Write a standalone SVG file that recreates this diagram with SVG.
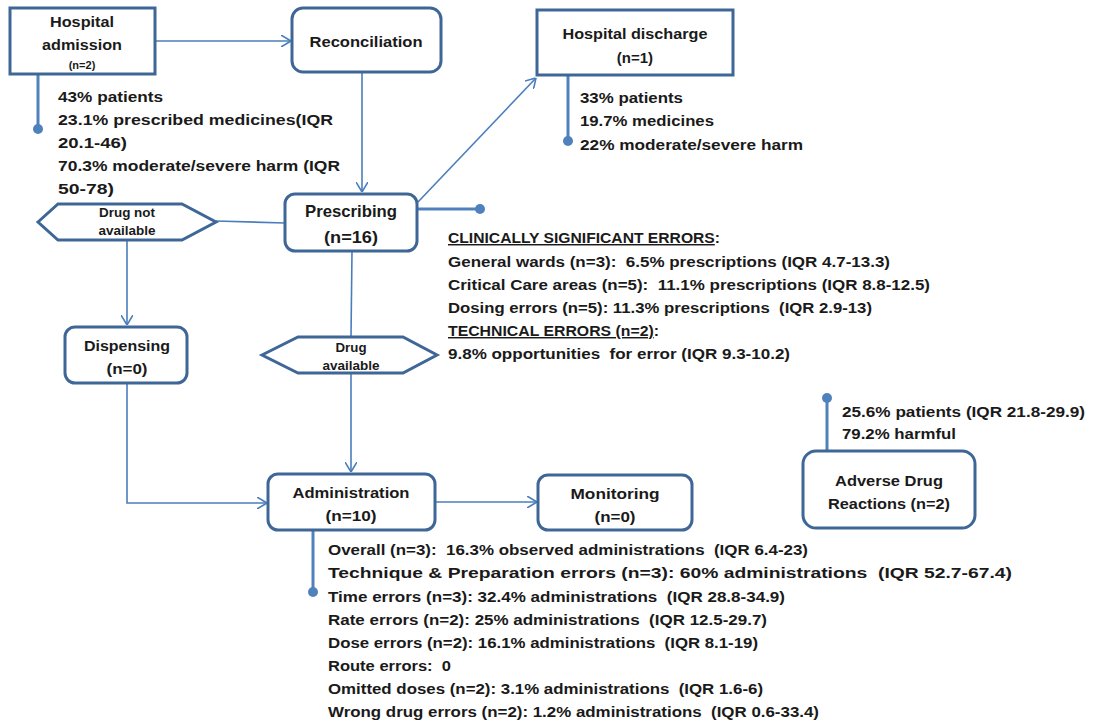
<svg xmlns="http://www.w3.org/2000/svg" width="1095" height="724" viewBox="0 0 1095 724">
  <style>
    .box { fill: #ffffff; stroke: #3e6696; stroke-width: 3; }
    .conn { fill: none; stroke: #4a7ebb; stroke-width: 1.6; }
    .call { fill: none; stroke: #4f81bd; stroke-width: 3; }
    .dot { fill: #4f81bd; }
    text { font-family: "Liberation Sans", Arial, sans-serif; font-weight: bold; fill: #1a1a1a; white-space: pre; }
    .n { font-size: 15px; text-anchor: middle; }
    .nb { font-size: 16.5px; text-anchor: middle; }
    .hx { font-size: 12.5px; text-anchor: middle; }
    .c { font-size: 14.5px; }
    .u { text-decoration: underline; }
  </style>
  <defs>
    <marker id="arrow" viewBox="0 0 10 12" refX="10" refY="6" markerWidth="10" markerHeight="12" markerUnits="userSpaceOnUse" orient="auto">
      <path d="M0,0 L10,6 L0,12" fill="none" stroke="#4a7ebb" stroke-width="1.6"/>
    </marker>
  </defs>

  <!-- connectors -->
  <g id="connectors">
    <line class="conn" x1="155" y1="41" x2="291" y2="41" marker-end="url(#arrow)"/>
    <line class="conn" x1="362" y1="72" x2="362" y2="192" marker-end="url(#arrow)"/>
    <line class="conn" x1="418" y1="202" x2="536" y2="78" marker-end="url(#arrow)"/>
    <line class="conn" x1="216" y1="221" x2="285" y2="223"/>
    <line class="conn" x1="127" y1="240" x2="127" y2="325" marker-end="url(#arrow)"/>
    <line class="conn" x1="352" y1="251" x2="351" y2="337"/>
    <line class="conn" x1="351" y1="373" x2="351" y2="472" marker-end="url(#arrow)"/>
    <polyline class="conn" points="127,383 127,503 267,503" marker-end="url(#arrow)"/>
    <line class="conn" x1="435" y1="502" x2="537" y2="502" marker-end="url(#arrow)"/>

    <!-- callout leaders -->
    <line class="call" x1="38" y1="74" x2="38" y2="128"/>
    <circle class="dot" cx="38" cy="129" r="5"/>
    <line class="call" x1="568" y1="76" x2="568" y2="140"/>
    <circle class="dot" cx="568" cy="141" r="5"/>
    <line class="call" x1="418" y1="209" x2="480" y2="209"/>
    <circle class="dot" cx="480" cy="209" r="5"/>
    <line class="call" x1="827" y1="451" x2="827" y2="398"/>
    <circle class="dot" cx="827" cy="398" r="5"/>
    <line class="call" x1="313" y1="530" x2="313" y2="591"/>
    <circle class="dot" cx="313" cy="592" r="5"/>
  </g>

  <!-- Hospital admission -->
  <g id="node-admission">
    <rect class="box" x="10" y="8" width="145" height="66"/>
    <text class="n" x="82" y="27" textLength="64" lengthAdjust="spacingAndGlyphs">Hospital</text>
    <text class="n" x="82" y="50" textLength="80" lengthAdjust="spacingAndGlyphs">admission</text>
    <text x="82" y="69" style="font-size:11px;text-anchor:middle">(n=2)</text>
    <text class="c" x="58" y="102" textLength="105" lengthAdjust="spacingAndGlyphs">43% patients</text>
    <text class="c" x="58" y="125" textLength="275" lengthAdjust="spacingAndGlyphs">23.1% prescribed medicines(IQR</text>
    <text class="c" x="58" y="148" textLength="69" lengthAdjust="spacingAndGlyphs">20.1-46)</text>
    <text class="c" x="58" y="171" textLength="282" lengthAdjust="spacingAndGlyphs">70.3% moderate/severe harm (IQR</text>
    <text class="c" x="58" y="194" textLength="56" lengthAdjust="spacingAndGlyphs">50-78)</text>
  </g>

  <!-- Reconciliation -->
  <g id="node-reconciliation">
    <rect class="box" x="292" y="8" width="149" height="64" rx="11"/>
    <text class="n" x="366" y="47" textLength="113" lengthAdjust="spacingAndGlyphs">Reconciliation</text>
  </g>

  <!-- Hospital discharge -->
  <g id="node-discharge">
    <rect class="box" x="537" y="10" width="196" height="65"/>
    <text class="n" x="635" y="39" textLength="145" lengthAdjust="spacingAndGlyphs">Hospital discharge</text>
    <text class="n" x="635" y="63">(n=1)</text>
    <text class="c" x="580" y="103" textLength="103" lengthAdjust="spacingAndGlyphs">33% patients</text>
    <text class="c" x="580" y="126" textLength="134" lengthAdjust="spacingAndGlyphs">19.7% medicines</text>
    <text class="c" x="580" y="150" textLength="223" lengthAdjust="spacingAndGlyphs">22% moderate/severe harm</text>
  </g>

  <!-- Prescribing -->
  <g id="node-prescribing">
    <rect class="box" x="285" y="194" width="132" height="57" rx="10"/>
    <text class="nb" x="351" y="217" textLength="92" lengthAdjust="spacingAndGlyphs">Prescribing</text>
    <text class="nb" x="351" y="243" textLength="54" lengthAdjust="spacingAndGlyphs">(n=16)</text>
    <text class="c" x="448" y="243" textLength="272" lengthAdjust="spacingAndGlyphs"><tspan class="u">CLINICALLY SIGNIFICANT ERRORS</tspan>:</text>
    <text class="c" x="448" y="267" textLength="442" lengthAdjust="spacingAndGlyphs">General wards (n=3):  6.5% prescriptions (IQR 4.7-13.3)</text>
    <text class="c" x="448" y="290" textLength="482" lengthAdjust="spacingAndGlyphs">Critical Care areas (n=5):  11.1% prescriptions (IQR 8.8-12.5)</text>
    <text class="c" x="448" y="313" textLength="424" lengthAdjust="spacingAndGlyphs">Dosing errors (n=5): 11.3% prescriptions  (IQR 2.9-13)</text>
    <text class="c" x="448" y="336" textLength="211" lengthAdjust="spacingAndGlyphs"><tspan class="u">TECHNICAL ERRORS (n=2)</tspan>:</text>
    <text class="c" x="448" y="359" textLength="342" lengthAdjust="spacingAndGlyphs">9.8% opportunities  for error (IQR 9.3-10.2)</text>
  </g>

  <!-- Drug not available -->
  <g id="node-drug-not-available">
    <polygon class="box" points="38,222 58,204 182,204 216,222 182,240 58,240"/>
    <text class="hx" x="127" y="217" textLength="56" lengthAdjust="spacingAndGlyphs">Drug not</text>
    <text class="hx" x="127" y="235" textLength="57" lengthAdjust="spacingAndGlyphs">available</text>
  </g>

  <!-- Dispensing -->
  <g id="node-dispensing">
    <rect class="box" x="65" y="327" width="122" height="56" rx="10"/>
    <text class="n" x="127" y="351" textLength="86" lengthAdjust="spacingAndGlyphs">Dispensing</text>
    <text class="n" x="127" y="374" textLength="41" lengthAdjust="spacingAndGlyphs">(n=0)</text>
  </g>

  <!-- Drug available -->
  <g id="node-drug-available">
    <polygon class="box" points="262,355 298,337 403,337 437,355 403,373 298,373"/>
    <text class="hx" x="351" y="352" textLength="31" lengthAdjust="spacingAndGlyphs">Drug</text>
    <text class="hx" x="351" y="370" textLength="57" lengthAdjust="spacingAndGlyphs">available</text>
  </g>

  <!-- Administration -->
  <g id="node-administration">
    <rect class="box" x="268" y="474" width="167" height="56" rx="10"/>
    <text class="n" x="351" y="498" textLength="117" lengthAdjust="spacingAndGlyphs">Administration</text>
    <text class="n" x="351" y="521" textLength="51" lengthAdjust="spacingAndGlyphs">(n=10)</text>
    <text class="c" x="328" y="555" textLength="480" lengthAdjust="spacingAndGlyphs">Overall (n=3):  16.3% observed administrations  (IQR 6.4-23)</text>
    <text class="c" x="328" y="578" textLength="684" lengthAdjust="spacingAndGlyphs">Technique &amp; Preparation errors (n=3): 60% administrations  (IQR 52.7-67.4)</text>
    <text class="c" x="328" y="602" textLength="457" lengthAdjust="spacingAndGlyphs">Time errors (n=3): 32.4% administrations  (IQR 28.8-34.9)</text>
    <text class="c" x="328" y="625" textLength="439" lengthAdjust="spacingAndGlyphs">Rate errors (n=2): 25% administrations  (IQR 12.5-29.7)</text>
    <text class="c" x="328" y="648" textLength="430" lengthAdjust="spacingAndGlyphs">Dose errors (n=2): 16.1% administrations  (IQR 8.1-19)</text>
    <text class="c" x="328" y="671" textLength="123" lengthAdjust="spacingAndGlyphs">Route errors:  0</text>
    <text class="c" x="328" y="694" textLength="435" lengthAdjust="spacingAndGlyphs">Omitted doses (n=2): 3.1% administrations  (IQR 1.6-6)</text>
    <text class="c" x="328" y="717" textLength="491" lengthAdjust="spacingAndGlyphs">Wrong drug errors (n=2): 1.2% administrations  (IQR 0.6-33.4)</text>
  </g>

  <!-- Monitoring -->
  <g id="node-monitoring">
    <rect class="box" x="538" y="475" width="154" height="55" rx="10"/>
    <text class="n" x="615" y="499" textLength="89" lengthAdjust="spacingAndGlyphs">Monitoring</text>
    <text class="n" x="615" y="522" textLength="41" lengthAdjust="spacingAndGlyphs">(n=0)</text>
  </g>

  <!-- Adverse Drug Reactions -->
  <g id="node-adr">
    <rect class="box" x="803" y="451" width="172" height="77" rx="13"/>
    <text class="n" x="889" y="486" textLength="108" lengthAdjust="spacingAndGlyphs">Adverse Drug</text>
    <text class="n" x="889" y="509" textLength="122" lengthAdjust="spacingAndGlyphs">Reactions (n=2)</text>
    <text class="c" x="842" y="417" textLength="243" lengthAdjust="spacingAndGlyphs">25.6% patients (IQR 21.8-29.9)</text>
    <text class="c" x="842" y="439" textLength="114" lengthAdjust="spacingAndGlyphs">79.2% harmful</text>
  </g>
</svg>
